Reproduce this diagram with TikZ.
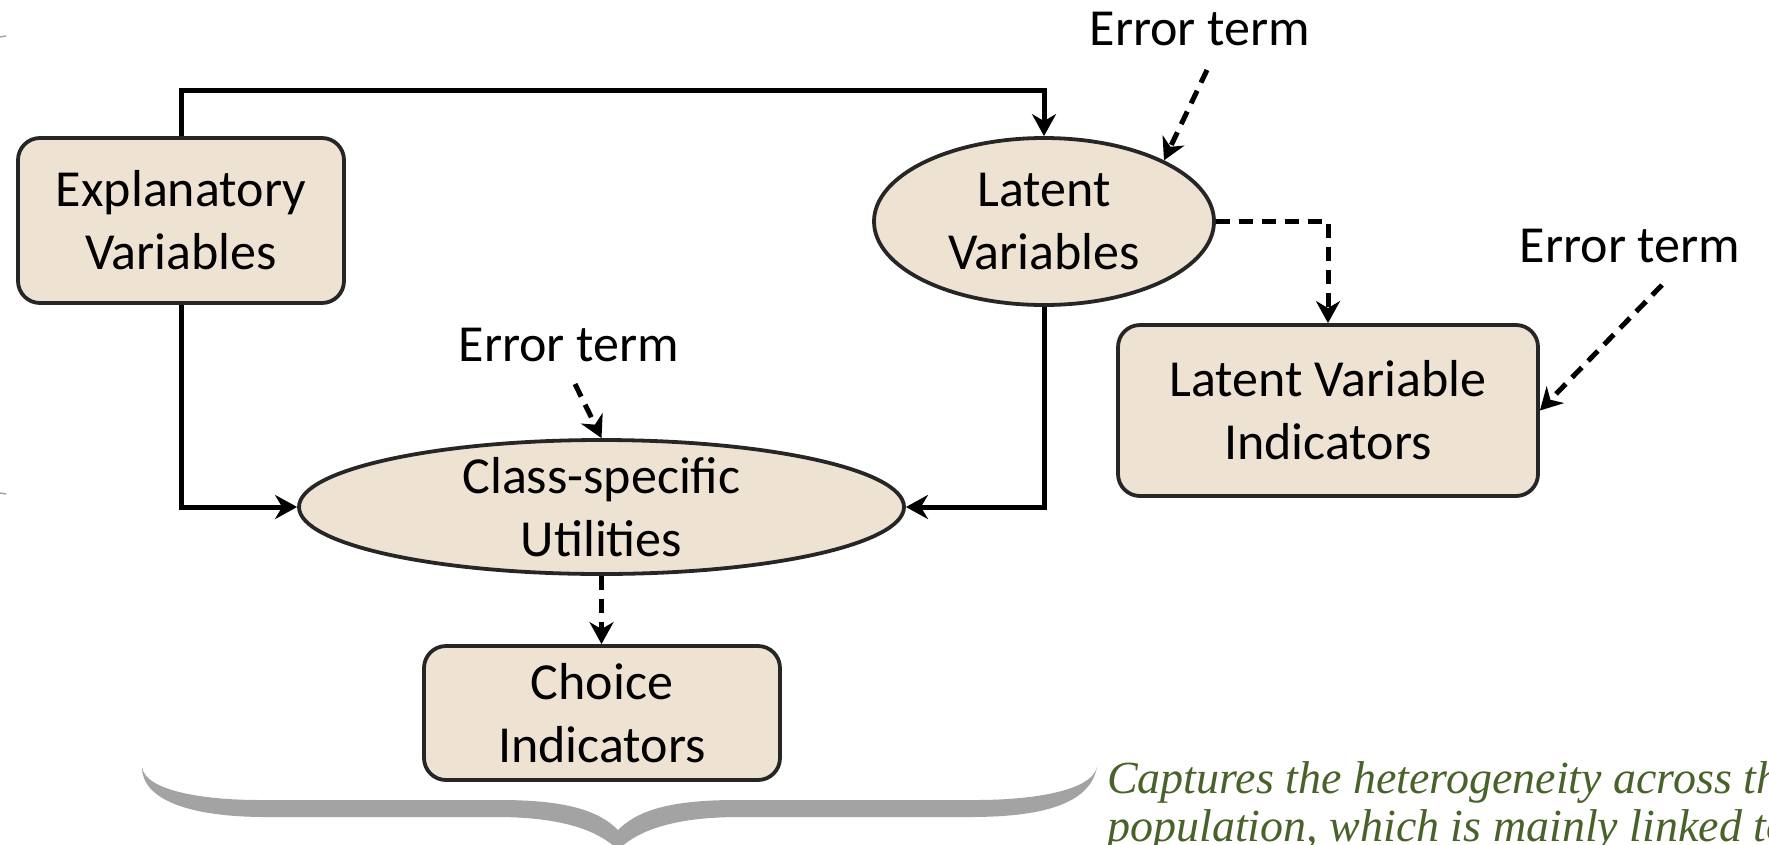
\documentclass[tikz,border=0pt]{standalone}
\usepackage{fontspec}
\setmainfont{Carlito}
\newfontfamily\notefont{Liberation Serif}
\usetikzlibrary{arrows.meta,shapes.geometric}
\definecolor{boxfill}{RGB}{238,227,211}
\definecolor{boxline}{RGB}{38,38,38}
\definecolor{notegreen}{RGB}{72,98,42}
\definecolor{bracegray}{RGB}{163,163,163}
\tikzset{
  txt/.style={font=\fontsize{52}{63}\selectfont, align=center, inner sep=0pt},
  box/.style={txt, draw=boxline, fill=boxfill, line width=3.8pt, rounded corners=22pt},
  oval/.style={ellipse, draw=boxline, fill=boxfill, line width=3.8pt, inner sep=0pt},
  conn/.style={line width=5pt, -{Stealth[length=22pt, width=24pt, inset=7pt]}},
  dconn/.style={conn, dash pattern=on 14pt off 9pt},
}
\begin{document}
\begin{tikzpicture}[x=1pt,y=-1pt]
\useasboundingbox (0,0) rectangle (1769,844);

% model blocks
\node[box, minimum width=326pt, minimum height=165pt] (ev) at (181,220.5) {Explanatory\\Variables};
\node[oval, minimum width=340pt, minimum height=167pt,
      label={[txt]center:Latent\\Variables}] (lv) at (1044,221.5) {};
\node[box, minimum width=420pt, minimum height=171pt] (lvi) at (1328,410.5) {Latent Variable\\Indicators};
\node[oval, minimum width=605pt, minimum height=134pt,
      label={[txt]center:Class-specific\\Utilities}] (cu) at (601.5,507) {};
\node[box, minimum width=356pt, minimum height=134pt] (ci) at (602,713) {Choice\\Indicators};

% error terms
\node[txt, anchor=base] (e1) at (1200,45) {Error term};
\node[txt, anchor=base] (e2) at (1630,262) {Error term};
\node[txt, anchor=base] (e3) at (569,361) {Error term};
\coordinate (s1) at (1207,70);
\coordinate (s2) at (1662,285);
\coordinate (s3) at (575,384);
\coordinate (top) at (0,90);

% structural links
\draw[conn] (ev.north) -- (ev.north |- top) -- (lv.north |- top) -- (lv.north);
\draw[conn] (ev.south) |- (cu.west);
\draw[conn] (lv.south) |- (cu.east);

% measurement links
\draw[dconn] (lv.east) -| (lvi.north);
\draw[dconn] (cu.south) -- (cu.south |- ci.north);

% disturbances
\draw[dconn] (s1) -- (lv.27);
\draw[dconn] (s2) -- (lvi.east);
\draw[dconn] (s3) -- (cu.north);

% grey brace under the choice model
\fill[bracegray] (142,767)
  .. controls (145,790) and (200,800) .. (260,800)
  -- (500,800)
  .. controls (570,800) and (600,812) .. (618,830)
  .. controls (636,812) and (666,800) .. (736,800)
  -- (976,800)
  .. controls (1036,800) and (1092,790) .. (1097,767)
  .. controls (1090,805) and (1040,817) .. (970,817)
  -- (740,817)
  .. controls (680,817) and (640,828) .. (618,850)
  .. controls (596,828) and (556,817) .. (496,817)
  -- (266,817)
  .. controls (190,817) and (142,800) .. (142,767) -- cycle;

% side note (anchored on the baseline of its last line)
\node[anchor=base west, align=left, text=notegreen, inner sep=0pt,
      font=\notefont\itshape\fontsize{46}{48.5}\selectfont] (note) at (1107,841.5)
  {Captures the heterogeneity across the\\population, which is mainly linked to};

% small marks on the left edge
\draw[gray!70, line width=1.5pt] (0,37) -- (6,36);
\draw[gray!70, line width=1.5pt] (0,493) -- (6,494);
\end{tikzpicture}
\end{document}
